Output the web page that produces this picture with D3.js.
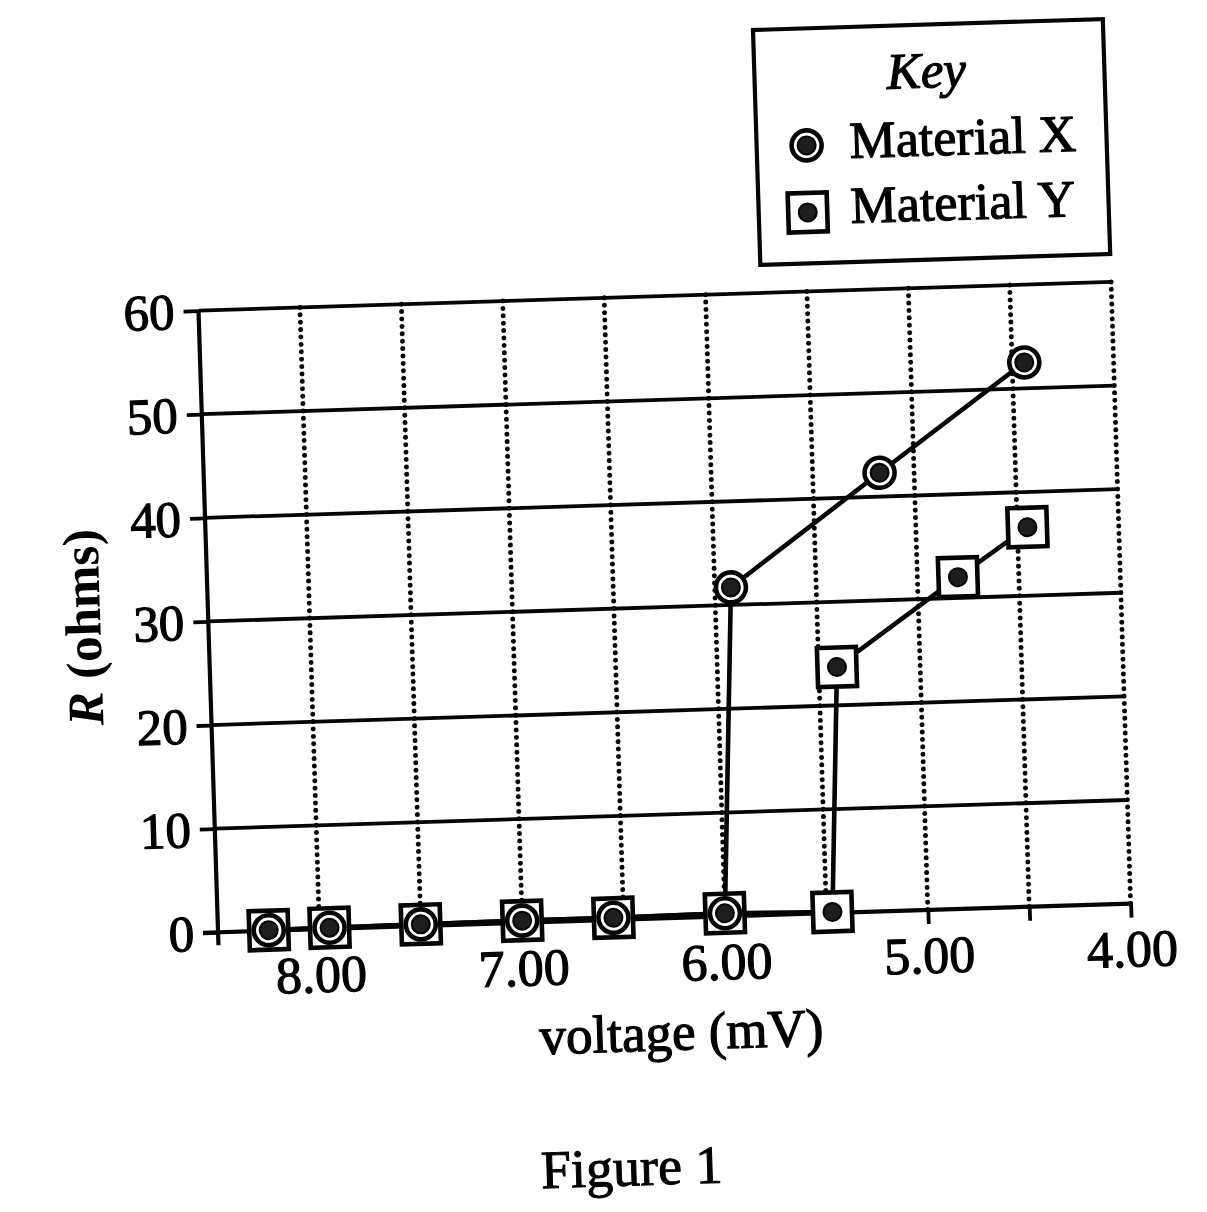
<!DOCTYPE html>
<html>
<head>
<meta charset="utf-8">
<script src="https://cdn.jsdelivr.net/npm/d3@7"></script>
<style>
  html, body { margin: 0; padding: 0; background: #fff; }
  svg { display: block; }
  text { font-family: "Liberation Serif", "DejaVu Serif", serif; fill: #000; }
</style>
</head>
<body>
<svg id="chart" width="1207" height="1212"></svg>
<script>
// ---- data ----
const xVoltage = [8.25, 7.95, 7.5, 7.0, 6.55, 6.0, 5.92, 5.17, 4.44];
const xResistance = [0.05, 0.1, 0.15, 0.2, 0.2, 0.3, 31.7, 42.3, 52.5];
const yVoltage = [8.25, 7.95, 7.5, 7.0, 6.55, 6.0, 5.47, 5.41, 4.80, 4.45];
const yResistance = [0.05, 0.1, 0.15, 0.2, 0.2, 0.3, 0.1, 23.7, 32.0, 36.6];
const xTickValues = [8.0, 7.5, 7.0, 6.5, 6.0, 5.5, 5.0, 4.5, 4.0];
const xTickLabels = ["8.00", "7.00", "6.00", "5.00", "4.00"];
const yTickValues = [0, 10, 20, 30, 40, 50, 60];
const seriesNames = ["Material X", "Material Y"];
const legendTitle = "Key";
const xTitle = "voltage (mV)";
const yTitleItalic = "R";
const yTitleRest = " (ohms)";
const figureCaption = "Figure 1";

(function () {
const svg = d3.select("#chart");
const root = svg.append("g").attr("transform", "rotate(-1.8, 604, 606)");

const pL = 208, pR = 1121, pT = 298, pB = 920;
const x = d3.scaleLinear().domain([8.5, 4.0]).range([pL, pR]);
const y = d3.scaleLinear().domain([0, 60]).range([pB, pT]);

const ink = "#050505";
const textStroke = 1.2;

// vertical dotted gridlines
root.append("g").selectAll("line").data(xTickValues).join("line")
  .attr("x1", d => x(d)).attr("x2", d => x(d))
  .attr("y1", pT).attr("y2", pB)
  .attr("stroke", ink).attr("stroke-width", 5)
  .attr("stroke-linecap", "round").attr("stroke-dasharray", "0 7.4");

// horizontal solid gridlines
root.append("g").selectAll("line").data(yTickValues.filter(v => v > 0)).join("line")
  .attr("x1", pL).attr("x2", pR)
  .attr("y1", d => y(d)).attr("y2", d => y(d))
  .attr("stroke", ink).attr("stroke-width", 3.8);

// y axis
const yAxis = root.append("g").attr("transform", `translate(${pL},0)`)
  .call(d3.axisLeft(y).tickValues(yTickValues).tickSize(15).tickSizeOuter(0).tickPadding(9).tickFormat(d3.format("d")));
yAxis.select(".domain").remove();
yAxis.selectAll(".tick line").attr("stroke", ink).attr("stroke-width", 3.8);
yAxis.selectAll(".tick text")
  .style("font-family", '"Liberation Serif", serif').style("font-size", "51px")
  .attr("fill", "#000").attr("stroke", "#000").attr("stroke-width", textStroke)
  .attr("dy", "0.34em");

// x axis
const labelSet = new Set(xTickLabels);
const xAxis = root.append("g").attr("transform", `translate(0,${pB})`)
  .call(d3.axisBottom(x).tickValues(xTickValues).tickSize(14).tickSizeOuter(0)
    .tickFormat(d => labelSet.has(d3.format(".2f")(d)) ? d3.format(".2f")(d) : ""));
xAxis.select(".domain").remove();
xAxis.selectAll(".tick line").attr("stroke", ink).attr("stroke-width", 3.8);
xAxis.selectAll(".tick text")
  .style("font-family", '"Liberation Serif", serif').style("font-size", "52px")
  .attr("fill", "#000").attr("stroke", "#000").attr("stroke-width", textStroke)
  .attr("y", 63).attr("dy", 0);

// axis lines
root.append("line").attr("x1", pL).attr("x2", pL).attr("y1", pT).attr("y2", pB + 13)
  .attr("stroke", ink).attr("stroke-width", 4.2);
root.append("line").attr("x1", pL - 15).attr("x2", pR).attr("y1", pB).attr("y2", pB)
  .attr("stroke", ink).attr("stroke-width", 4.2);

// series lines
const line = d3.line().x(d => x(d[0])).y(d => y(d[1]));
const ptsX = xVoltage.map((v, i) => [v, xResistance[i]]);
const ptsY = yVoltage.map((v, i) => [v, yResistance[i]]);
root.append("path").attr("d", line(ptsY)).attr("fill", "none").attr("stroke", ink).attr("stroke-width", 4.6);
root.append("path").attr("d", line(ptsX)).attr("fill", "none").attr("stroke", ink).attr("stroke-width", 4.6);

function squareMarker(g, cx, cy) {
  g.append("rect").attr("x", cx - 19.5).attr("y", cy - 19.5).attr("width", 39).attr("height", 39)
    .attr("fill", "#fff").attr("stroke", ink).attr("stroke-width", 4.6);
  g.append("circle").attr("cx", cx).attr("cy", cy).attr("r", 9)
    .attr("fill", "#1e1e1e").attr("stroke", ink).attr("stroke-width", 2);
}
function circleMarker(g, cx, cy) {
  g.append("circle").attr("cx", cx).attr("cy", cy).attr("r", 15)
    .attr("fill", "#fff").attr("stroke", ink).attr("stroke-width", 4.6);
  g.append("circle").attr("cx", cx).attr("cy", cy).attr("r", 9)
    .attr("fill", "#1e1e1e").attr("stroke", ink).attr("stroke-width", 2);
}

const mY = root.append("g");
ptsY.forEach(p => squareMarker(mY, x(p[0]), y(p[1])));
const mX = root.append("g");
ptsX.forEach(p => circleMarker(mX, x(p[0]), y(p[1])));

// axis titles
root.append("text").attr("x", 668).attr("y", 1052).attr("text-anchor", "middle")
  .style("font-size", "53px").attr("stroke", "#000").attr("stroke-width", textStroke).text(xTitle);
const yt = root.append("text").attr("transform", "translate(100,611) rotate(-90)")
  .attr("text-anchor", "middle").style("font-size", "51px").style("font-weight", "bold");
yt.append("tspan").style("font-style", "italic").text(yTitleItalic);
yt.append("tspan").text(yTitleRest);

// legend
const lg = root.append("g");
lg.append("rect").attr("x", 771).attr("y", 35).attr("width", 350).attr("height", 235)
  .attr("fill", "#fff").attr("stroke", ink).attr("stroke-width", 4.2);
lg.append("text").attr("x", 943).attr("y", 98).attr("text-anchor", "middle")
  .style("font-size", "51px").style("font-style", "italic").attr("stroke", "#000").attr("stroke-width", textStroke)
  .text(legendTitle);
circleMarker(lg, 821, 152);
squareMarker(lg, 820, 219);
lg.append("text").attr("x", 864).attr("y", 166).style("font-size", "52px")
  .attr("stroke", "#000").attr("stroke-width", textStroke).text(seriesNames[0]);
lg.append("text").attr("x", 863).attr("y", 231).style("font-size", "52px")
  .attr("stroke", "#000").attr("stroke-width", textStroke).text(seriesNames[1]);

// caption
root.append("text").attr("x", 614).attr("y", 1186).attr("text-anchor", "middle")
  .style("font-size", "54px").attr("stroke", "#000").attr("stroke-width", 1).text(figureCaption);
})();
</script>
</body>
</html>
